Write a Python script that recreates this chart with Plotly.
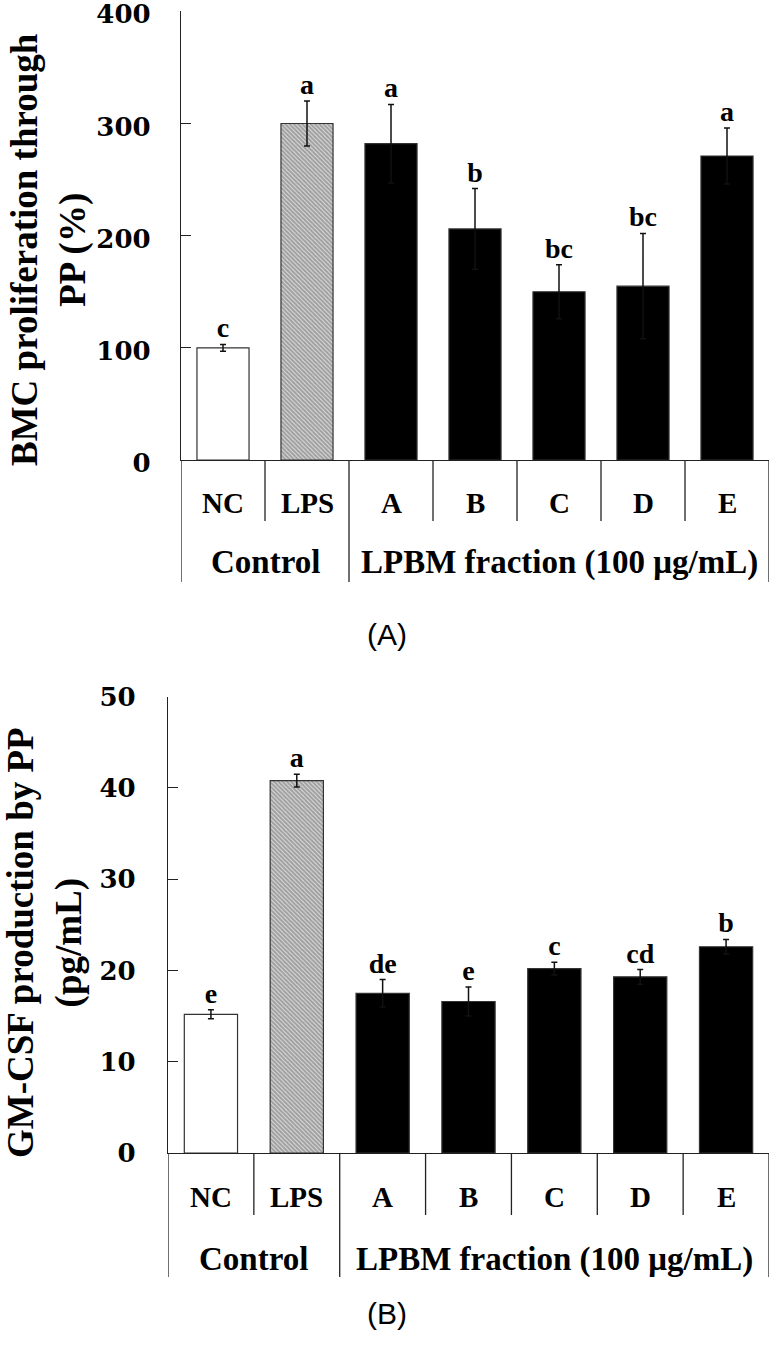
import plotly.graph_objects as go

W, H = 776, 1350

categories = ["NC", "LPS", "A", "B", "C", "D", "E"]
groups = ["Control", "LPBM fraction (100 μg/mL)"]
group_spans = [(0, 1), (2, 6)]

bmc_values = [100, 300, 282, 206, 150, 155, 271]
bmc_errors = [3, 20, 35, 36, 24, 47, 25]
bmc_letters = ["c", "a", "a", "b", "bc", "bc", "a"]

gm_values = [15.2, 40.8, 17.5, 16.6, 20.2, 19.3, 22.6]
gm_errors = [0.5, 0.7, 1.5, 1.6, 0.7, 0.8, 0.8]
gm_letters = ["e", "a", "de", "e", "c", "cd", "b"]

bmc_ticks = [0, 100, 200, 300, 400]
gm_ticks = [0, 10, 20, 30, 40, 50]

SERIF = "Liberation Serif"

def py(px):
    return 1 - px / H

fig = go.Figure()

fills = ["white", "white", "black", "black", "black", "black", "black"]
shapes_pat = ["", "\\", "", "", "", "", ""]

def add_panel(values, errors, letters, xa, ya):
    xs = list(range(len(categories)))
    fig.add_trace(go.Bar(
        x=xs, y=values, width=0.62,
        marker=dict(color=fills, line=dict(color="#333333", width=1.2),
                    pattern=dict(shape=shapes_pat, fgcolor="black", bgcolor="white",
                                 size=3, solidity=0.8)),
        error_y=dict(type="data", array=errors, color="#111111", thickness=1.5, width=3),
        xaxis=xa, yaxis=ya, showlegend=False, hoverinfo="skip"))
    fig.add_trace(go.Scatter(
        x=xs, y=[v + e for v, e in zip(values, errors)], mode="text", text=letters,
        textposition="top center",
        textfont=dict(family=SERIF, size=28, color="black", weight="bold"),
        xaxis=xa, yaxis=ya, showlegend=False, hoverinfo="skip", cliponaxis=False))

add_panel(bmc_values, bmc_errors, bmc_letters, "x", "y")
add_panel(gm_values, gm_errors, gm_letters, "x2", "y2")

tickfont = dict(family="DejaVu Serif", size=26, color="black", weight="bold")

# panel geometry (pixels)
top = dict(left=181, right=769, axis=460, topy=11.3, catb=521, grpb=582, catl=503, grpl=562, lab=635)
bot = dict(left=168, right=769, axis=1153, topy=696.7, catb=1215, grpb=1277, catl=1197, grpl=1259, lab=1332)

fig.update_layout(
    width=W, height=H, margin=dict(l=0, r=0, t=0, b=0, autoexpand=False),
    paper_bgcolor="white", plot_bgcolor="white", bargap=0.38,
    xaxis=dict(domain=[top["left"] / W, top["right"] / W], range=[-0.5, 6.5], automargin=False,
               showline=True, linecolor="#222222", linewidth=1.3, showticklabels=False,
               ticks="", showgrid=False, zeroline=False, fixedrange=True),
    yaxis=dict(domain=[py(top["axis"]), py(top["topy"])], range=[0, 400], automargin=False,
               tickvals=bmc_ticks, ticks="inside", ticklen=10, tickcolor="#222222",
               showline=True, linecolor="#222222", linewidth=1.3, showgrid=False,
               zeroline=False, tickfont=tickfont, ticklabelstandoff=24,
               ticklabeloverflow="allow", ticklabelshift=3),
    xaxis2=dict(domain=[bot["left"] / W, bot["right"] / W], range=[-0.5, 6.5], automargin=False,
                showline=True, linecolor="#222222", linewidth=1.3, showticklabels=False,
                ticks="", showgrid=False, zeroline=False, anchor="y2"),
    yaxis2=dict(domain=[py(bot["axis"]), py(bot["topy"])], range=[0, 50], automargin=False,
                tickvals=gm_ticks, ticks="inside", ticklen=10, tickcolor="#222222",
                showline=True, linecolor="#222222", linewidth=1.3, showgrid=False,
                zeroline=False, tickfont=tickfont, ticklabelstandoff=26, anchor="x2",
                ticklabeloverflow="allow"),
)

shapes = []
annotations = []
for g, xref in ((top, "x"), (bot, "x2")):
    n = len(categories)
    group_edges = set()
    for a, b in group_spans:
        group_edges.add(a - 0.5)
        group_edges.add(b + 0.5)
    for k in range(n + 1):
        xe = k - 0.5
        yb = g["grpb"] if xe in group_edges else g["catb"]
        shapes.append(dict(type="line", xref=xref, yref="paper", x0=xe, x1=xe,
                           y0=py(g["axis"]), y1=py(yb), line=dict(color="#222222", width=1.3)))
    for i, c in enumerate(categories):
        annotations.append(dict(x=i, y=py(g["catl"]), xref=xref, yref="paper", text=c,
                                showarrow=False, xanchor="center", yanchor="middle",
                                font=dict(family=SERIF, size=29, color="black", weight="bold")))
    for (a, b), name in zip(group_spans, groups):
        annotations.append(dict(x=(a + b) / 2, y=py(g["grpl"]), xref=xref, yref="paper", text=name,
                                showarrow=False, xanchor="center", yanchor="middle",
                                font=dict(family=SERIF, size=33, color="black", weight="bold")))

annotations.append(dict(x=387 / W, y=py(top["lab"]), xref="paper", yref="paper", text="(A)",
                        showarrow=False, font=dict(family="Liberation Sans", size=30, color="black")))
annotations.append(dict(x=387 / W, y=py(bot["lab"]), xref="paper", yref="paper", text="(B)",
                        showarrow=False, font=dict(family="Liberation Sans", size=30, color="black")))

annotations.append(dict(x=49 / W, y=py(250), xref="paper", yref="paper",
                        text="BMC proliferation through<br>PP (%)", textangle=-90,
                        showarrow=False, xanchor="center", yanchor="middle",
                        font=dict(family=SERIF, size=37, color="black", weight="bold")))
annotations.append(dict(x=45 / W, y=py(943), xref="paper", yref="paper",
                        text="GM-CSF production by PP<br>(pg/mL)", textangle=-90,
                        showarrow=False, xanchor="center", yanchor="middle",
                        font=dict(family=SERIF, size=37, color="black", weight="bold")))

fig.update_layout(shapes=shapes, annotations=annotations)

fig.write_html("out.html", config={"displayModeBar": False},
               post_script="document.body.style.margin='0px';")
